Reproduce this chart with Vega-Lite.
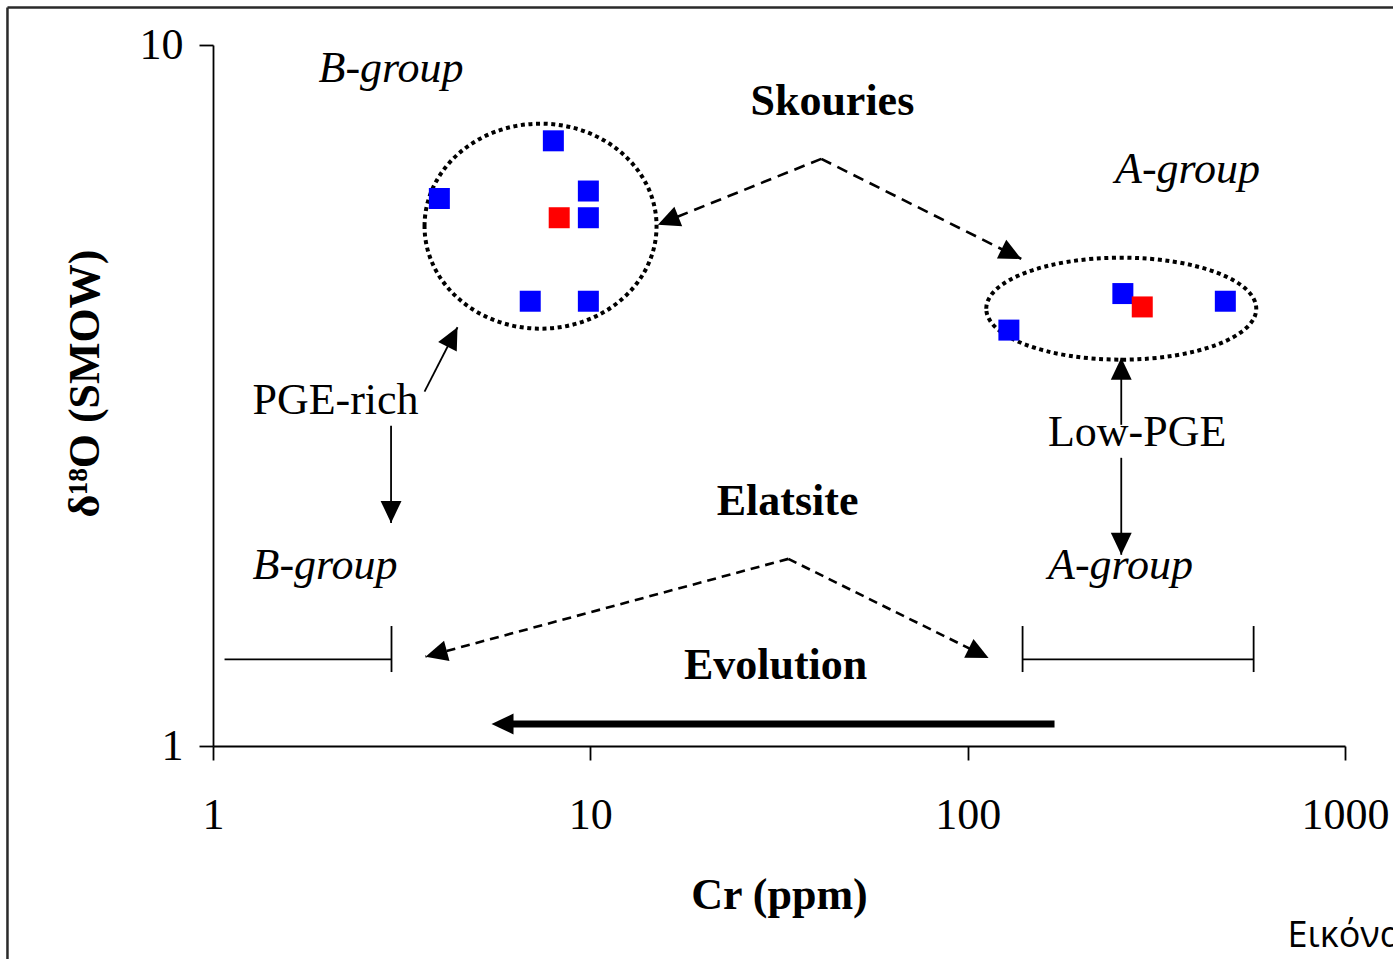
{
  "$schema": "https://vega.github.io/schema/vega-lite/v6.json",
  "width": 1132,
  "height": 701,
  "autosize": {"type": "none"},
  "padding": {"left": 213, "top": 45, "right": 48, "bottom": 213},
  "background": "white",
  "config": {"view": {"stroke": null}},
  "datasets": {
    "frame": [
      {"edge": "left", "cr": 0.2853, "d18o": 0.45, "cr2": 0.2853, "d18o2": 11.31},
      {"edge": "top", "cr": 0.2853, "d18o": 11.31, "cr2": 1500, "d18o2": 11.31}
    ],
    "ellipses": [
      {"cluster": "Skouries B-group", "cr": 7.38, "d18o": 5.515},
      {"cluster": "Skouries A-group", "cr": 255.3, "d18o": 4.206}
    ],
    "samples": [
      {"group": "B", "kind": "sample", "cr": 3.98, "d18o": 6.04},
      {"group": "B", "kind": "sample", "cr": 7.98, "d18o": 7.30},
      {"group": "B", "kind": "sample", "cr": 9.88, "d18o": 6.19},
      {"group": "B", "kind": "sample", "cr": 9.88, "d18o": 5.67},
      {"group": "B", "kind": "mean", "cr": 8.27, "d18o": 5.67},
      {"group": "B", "kind": "sample", "cr": 6.93, "d18o": 4.31},
      {"group": "B", "kind": "sample", "cr": 9.88, "d18o": 4.31},
      {"group": "A", "kind": "sample", "cr": 128.6, "d18o": 3.92},
      {"group": "A", "kind": "sample", "cr": 257.8, "d18o": 4.42},
      {"group": "A", "kind": "mean", "cr": 290.2, "d18o": 4.23},
      {"group": "A", "kind": "sample", "cr": 481.8, "d18o": 4.31}
    ],
    "dashed": [
      {"site": "Skouries", "cr": 40.93, "d18o": 6.88, "cr2": 15.10, "d18o2": 5.543},
      {"site": "Skouries", "cr": 40.93, "d18o": 6.88, "cr2": 138.7, "d18o2": 4.952},
      {"site": "Elatsite", "cr": 33.48, "d18o": 1.849, "cr2": 3.658, "d18o2": 1.341},
      {"site": "Elatsite", "cr": 33.48, "d18o": 1.849, "cr2": 113.6, "d18o2": 1.335}
    ],
    "solid": [
      {"line": "PGE-rich to Skouries", "cr": 3.636, "d18o": 3.202, "cr2": 4.446, "d18o2": 3.957},
      {"line": "PGE-rich to Elatsite", "cr": 2.964, "d18o": 2.862, "cr2": 2.964, "d18o2": 2.081},
      {"line": "Low-PGE to Skouries", "cr": 255.3, "d18o": 2.872, "cr2": 255.3, "d18o2": 3.580},
      {"line": "Low-PGE to Elatsite", "cr": 255.3, "d18o": 2.577, "cr2": 255.3, "d18o2": 1.874},
      {"line": "B-group range", "cr": 1.073, "d18o": 1.329, "cr2": 2.972, "d18o2": 1.329},
      {"line": "B-group range end", "cr": 2.972, "d18o": 1.483, "cr2": 2.972, "d18o2": 1.275},
      {"line": "A-group range", "cr": 139.8, "d18o": 1.329, "cr2": 572.6, "d18o2": 1.329},
      {"line": "A-group range start", "cr": 139.8, "d18o": 1.483, "cr2": 139.8, "d18o2": 1.275},
      {"line": "A-group range end", "cr": 572.6, "d18o": 1.483, "cr2": 572.6, "d18o2": 1.275}
    ],
    "evolution": [
      {"cr": 169.9, "d18o": 1.075, "cr2": 6.18, "d18o2": 1.075}
    ],
    "heads": [
      {"arrow": "Skouries to B-group", "cr": 15.10, "d18o": 5.543},
      {"arrow": "Skouries to A-group", "cr": 138.7, "d18o": 4.952},
      {"arrow": "Elatsite to B-group", "cr": 3.658, "d18o": 1.341},
      {"arrow": "Elatsite to A-group", "cr": 113.6, "d18o": 1.335},
      {"arrow": "PGE-rich to Skouries", "cr": 4.446, "d18o": 3.957},
      {"arrow": "PGE-rich to Elatsite", "cr": 2.964, "d18o": 2.081},
      {"arrow": "Low-PGE to Skouries", "cr": 255.3, "d18o": 3.580},
      {"arrow": "Low-PGE to Elatsite", "cr": 255.3, "d18o": 1.874},
      {"arrow": "Evolution", "cr": 5.472, "d18o": 1.075}
    ],
    "labels": [
      {"label": "B-group", "role": "group", "cr": 2.964, "d18o": 8.87},
      {"label": "Skouries", "role": "site", "cr": 43.79, "d18o": 7.958},
      {"label": "A-group", "role": "group", "cr": 382.6, "d18o": 6.36},
      {"label": "PGE-rich", "role": "pge", "cr": 2.112, "d18o": 2.978},
      {"label": "Low-PGE", "role": "pge", "cr": 281.2, "d18o": 2.675},
      {"label": "Elatsite", "role": "site", "cr": 33.32, "d18o": 2.137},
      {"label": "B-group", "role": "group", "cr": 1.981, "d18o": 1.730},
      {"label": "A-group", "role": "group", "cr": 254.2, "d18o": 1.730},
      {"label": "Evolution", "role": "site", "cr": 30.97, "d18o": 1.245}
    ],
    "caption": [
      {"text": "Εικόνα", "cr": 704.4, "d18o": 0.5164}
    ]
  },
  "encoding": {
    "x": {
      "field": "cr", "type": "quantitative",
      "scale": {"type": "log", "domain": [1, 1000], "nice": false},
      "axis": {
        "title": "Cr (ppm)", "values": [1, 10, 100, 1000], "format": "d", "grid": false,
        "tickSize": 14, "tickWidth": 1.8, "tickColor": "#000",
        "domainColor": "#000", "domainWidth": 1.8,
        "labelFont": "Liberation Serif", "labelFontSize": 44, "labelColor": "#000",
        "labelPadding": 33, "labelBaseline": "top", "labelFlush": false, "labelOverlap": false,
        "titleFont": "Liberation Serif", "titleFontSize": 44, "titleFontWeight": "bold",
        "titleColor": "#000", "titlePadding": 36
      }
    },
    "y": {
      "field": "d18o", "type": "quantitative",
      "scale": {"type": "log", "domain": [1, 10], "nice": false},
      "axis": {
        "title": "δ¹⁸O (SMOW)", "values": [1, 10], "format": "d", "grid": false,
        "tickSize": 14, "tickWidth": 1.8, "tickColor": "#000",
        "domainColor": "#000", "domainWidth": 1.8,
        "labelFont": "Liberation Serif", "labelFontSize": 44, "labelColor": "#000",
        "labelPadding": 16, "labelFlush": false, "labelOverlap": false,
        "titleFont": "Liberation Serif", "titleFontSize": 44, "titleFontWeight": "bold",
        "titleColor": "#000", "titleBaseline": "alphabetic", "titlePadding": 41, "titleY": 338
      }
    }
  },
  "layer": [
    {
      "data": {"name": "frame"},
      "mark": {"type": "rule", "color": "#2a2a2a", "strokeWidth": 2.5},
      "encoding": {"x2": {"field": "cr2"}, "y2": {"field": "d18o2"}}
    },
    {
      "data": {"name": "ellipses"},
      "transform": [{"filter": "datum.cluster === 'Skouries B-group'"}],
      "mark": {
        "type": "point", "filled": false, "stroke": "#000", "strokeWidth": 4,
        "strokeDash": [4, 3.6], "opacity": 1, "size": 53824,
        "shape": "M-1,0C-1,-0.488,-0.5523,-0.8836,0,-0.8836C0.5523,-0.8836,1,-0.488,1,0C1,0.488,0.5523,0.8836,0,0.8836C-0.5523,0.8836,-1,0.488,-1,0Z"
      }
    },
    {
      "data": {"name": "ellipses"},
      "transform": [{"filter": "datum.cluster === 'Skouries A-group'"}],
      "mark": {
        "type": "point", "filled": false, "stroke": "#000", "strokeWidth": 4,
        "strokeDash": [4, 3.6], "opacity": 1, "size": 72900,
        "shape": "M-1,0C-1,-0.2087,-0.5523,-0.3778,0,-0.3778C0.5523,-0.3778,1,-0.2087,1,0C1,0.2087,0.5523,0.3778,0,0.3778C-0.5523,0.3778,-1,0.2087,-1,0Z"
      }
    },
    {
      "data": {"name": "samples"},
      "mark": {"type": "point", "shape": "square", "filled": true, "size": 441, "opacity": 1, "strokeWidth": 0},
      "encoding": {
        "color": {"field": "kind", "type": "nominal", "scale": {"domain": ["sample", "mean"], "range": ["#0000ff", "#ff0000"]}, "legend": null}
      }
    },
    {
      "data": {"name": "dashed"},
      "transform": [{"filter": "datum.site === 'Skouries'"}],
      "mark": {"type": "rule", "color": "#000", "strokeWidth": 2.6, "strokeDash": [11, 7]},
      "encoding": {"x2": {"field": "cr2"}, "y2": {"field": "d18o2"}}
    },
    {
      "data": {"name": "dashed"},
      "transform": [{"filter": "datum.site === 'Elatsite'"}],
      "mark": {"type": "rule", "color": "#000", "strokeWidth": 2.6, "strokeDash": [9, 6]},
      "encoding": {"x2": {"field": "cr2"}, "y2": {"field": "d18o2"}}
    },
    {
      "data": {"name": "solid"},
      "mark": {"type": "rule", "color": "#000", "strokeWidth": 1.8},
      "encoding": {"x2": {"field": "cr2"}, "y2": {"field": "d18o2"}}
    },
    {
      "data": {"name": "evolution"},
      "mark": {"type": "rule", "color": "#000", "strokeWidth": 7},
      "encoding": {"x2": {"field": "cr2"}, "y2": {"field": "d18o2"}}
    },
    {
      "data": {"name": "heads"},
      "mark": {"type": "point", "filled": true, "color": "#000", "opacity": 1, "strokeWidth": 0, "size": 484, "shape": "M0,0L0.95,2L-0.95,2Z"},
      "encoding": {
        "angle": {
          "field": "arrow", "type": "nominal", "legend": null,
          "scale": {
            "type": "ordinal",
            "domain": ["Skouries to B-group", "Skouries to A-group", "Elatsite to B-group", "Elatsite to A-group", "PGE-rich to Skouries", "PGE-rich to Elatsite", "Low-PGE to Skouries", "Low-PGE to Elatsite", "Evolution"],
            "range": [248.1, 116.6, 254.9, 116.3, 27.1, 180, 0, 180, 270]
          }
        }
      }
    },
    {
      "data": {"name": "labels"},
      "transform": [{"filter": "datum.role === 'group'"}],
      "mark": {"type": "text", "font": "Liberation Serif", "fontSize": 44, "fontStyle": "italic", "align": "center", "baseline": "alphabetic", "color": "#000"},
      "encoding": {"text": {"field": "label"}}
    },
    {
      "data": {"name": "labels"},
      "transform": [{"filter": "datum.role === 'site'"}],
      "mark": {"type": "text", "font": "Liberation Serif", "fontSize": 44, "fontWeight": "bold", "align": "center", "baseline": "alphabetic", "color": "#000"},
      "encoding": {"text": {"field": "label"}}
    },
    {
      "data": {"name": "labels"},
      "transform": [{"filter": "datum.role === 'pge'"}],
      "mark": {"type": "text", "font": "Liberation Serif", "fontSize": 44, "align": "center", "baseline": "alphabetic", "color": "#000"},
      "encoding": {"text": {"field": "label"}}
    },
    {
      "data": {"name": "caption"},
      "mark": {"type": "text", "font": "Open Sans", "fontSize": 36, "align": "left", "baseline": "alphabetic", "color": "#000"},
      "encoding": {"text": {"field": "text"}}
    }
  ]
}
